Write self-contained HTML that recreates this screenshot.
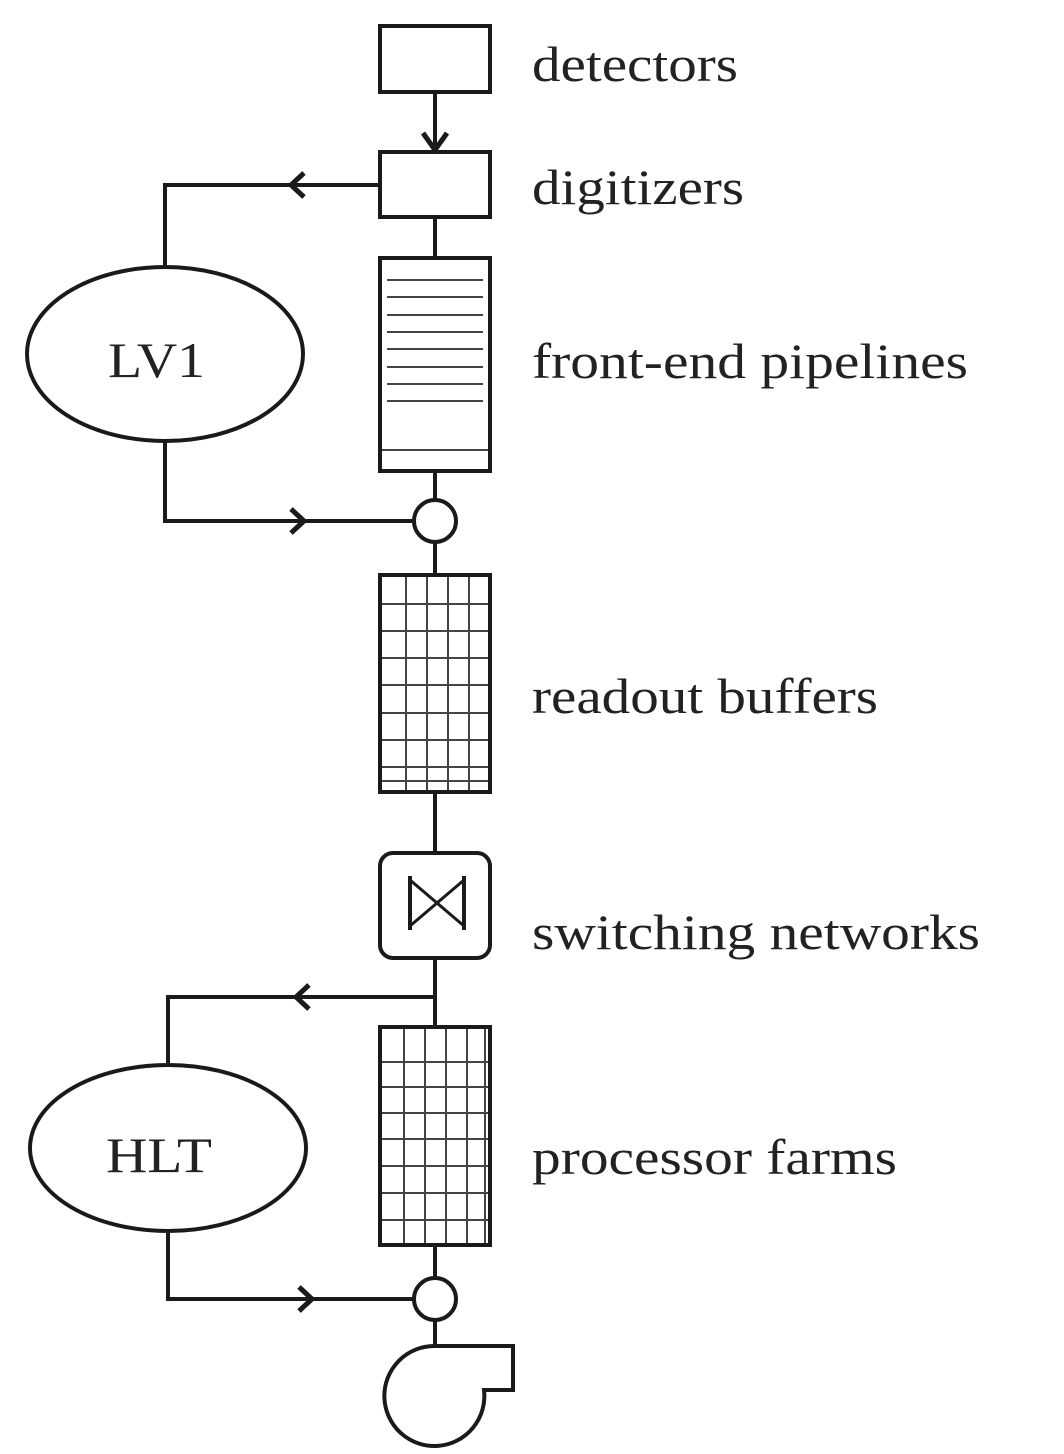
<!DOCTYPE html>
<html><head><meta charset="utf-8"><style>
html,body{margin:0;padding:0;background:#fff}
svg{display:block}
text{font-family:"Liberation Serif",serif;fill:#222}
</style></head><body>
<svg width="1064" height="1454" viewBox="0 0 1064 1454" xmlns="http://www.w3.org/2000/svg">
<g fill="none" stroke="#1a1a1a" stroke-width="4">
<rect x="380" y="26" width="110" height="66"/>
<line x1="435" y1="92" x2="435" y2="150"/>
<polyline points="423,133 435,150 447,133" stroke-width="5"/>
<rect x="380" y="152" width="110" height="65"/>
<line x1="435" y1="217" x2="435" y2="258"/>
<rect x="380" y="258" width="110" height="213"/>
<line x1="435" y1="471" x2="435" y2="500"/>
<circle cx="435" cy="521" r="21"/>
<line x1="435" y1="542" x2="435" y2="575"/>
<rect x="380" y="575" width="110" height="217"/>
<line x1="435" y1="792" x2="435" y2="853"/>
<rect x="380" y="853" width="110" height="105" rx="13"/>
<line x1="435" y1="958" x2="435" y2="1027"/>
<rect x="380" y="1027" width="110" height="218"/>
<line x1="435" y1="1245" x2="435" y2="1278"/>
<circle cx="435" cy="1299" r="21"/>
<line x1="435" y1="1320" x2="435" y2="1346"/>
<path d="M435,1346 L513,1346 L513,1390 L484,1390 A50,50 0 1 1 435,1346"/>
<ellipse cx="165" cy="354" rx="138" ry="87"/>
<polyline points="165,267 165,185 380,185"/>
<polyline points="304,173 291,185 304,197" stroke-width="5"/>
<polyline points="165,441 165,521 414,521"/>
<polyline points="291,509 304,521 291,533" stroke-width="5"/>
<ellipse cx="168" cy="1148" rx="138" ry="83"/>
<polyline points="168,1065 168,997 435,997"/>
<polyline points="309,985 296,997 309,1009" stroke-width="5"/>
<polyline points="168,1231 168,1299 414,1299"/>
<polyline points="299,1287 312,1299 299,1311" stroke-width="5"/>
<line x1="410" y1="876" x2="410" y2="930" stroke-width="4"/>
<line x1="464" y1="876" x2="464" y2="930" stroke-width="4"/>
<polyline points="410,880 464,926" stroke-width="3"/>
<polyline points="464,880 410,926" stroke-width="3"/>
</g>
<g stroke="#444" stroke-width="2" fill="none">
<line x1="387" y1="280" x2="483" y2="280"/>
<line x1="387" y1="297" x2="483" y2="297"/>
<line x1="387" y1="315" x2="483" y2="315"/>
<line x1="387" y1="332" x2="483" y2="332"/>
<line x1="387" y1="349" x2="483" y2="349"/>
<line x1="387" y1="367" x2="483" y2="367"/>
<line x1="387" y1="384" x2="483" y2="384"/>
<line x1="387" y1="401" x2="483" y2="401"/>
<line x1="382" y1="450" x2="488" y2="450"/>
<line x1="406" y1="577" x2="406" y2="790"/>
<line x1="427" y1="577" x2="427" y2="790"/>
<line x1="448" y1="577" x2="448" y2="790"/>
<line x1="469" y1="577" x2="469" y2="790"/>
<line x1="382" y1="604" x2="488" y2="604"/>
<line x1="382" y1="631" x2="488" y2="631"/>
<line x1="382" y1="658" x2="488" y2="658"/>
<line x1="382" y1="685" x2="488" y2="685"/>
<line x1="382" y1="713" x2="488" y2="713"/>
<line x1="382" y1="740" x2="488" y2="740"/>
<line x1="382" y1="767" x2="488" y2="767"/>
<line x1="382" y1="781" x2="488" y2="781"/>
<line x1="404" y1="1029" x2="404" y2="1243"/>
<line x1="425" y1="1029" x2="425" y2="1243"/>
<line x1="446" y1="1029" x2="446" y2="1243"/>
<line x1="467" y1="1029" x2="467" y2="1243"/>
<line x1="485" y1="1029" x2="485" y2="1243"/>
<line x1="382" y1="1062" x2="488" y2="1062"/>
<line x1="382" y1="1087" x2="488" y2="1087"/>
<line x1="382" y1="1113" x2="488" y2="1113"/>
<line x1="382" y1="1139" x2="488" y2="1139"/>
<line x1="382" y1="1166" x2="488" y2="1166"/>
<line x1="382" y1="1193" x2="488" y2="1193"/>
<line x1="382" y1="1220" x2="488" y2="1220"/>
</g>
<g font-size="50">
<text x="532" y="81" textLength="206" lengthAdjust="spacingAndGlyphs">detectors</text>
<text x="532" y="204" textLength="212" lengthAdjust="spacingAndGlyphs">digitizers</text>
<text x="532" y="378" textLength="436" lengthAdjust="spacingAndGlyphs">front-end pipelines</text>
<text x="532" y="713" textLength="346" lengthAdjust="spacingAndGlyphs">readout buffers</text>
<text x="532" y="949" textLength="448" lengthAdjust="spacingAndGlyphs">switching networks</text>
<text x="532" y="1174" textLength="365" lengthAdjust="spacingAndGlyphs">processor farms</text>
<text x="108" y="377" textLength="97" lengthAdjust="spacingAndGlyphs">LV1</text>
<text x="106" y="1172" textLength="106" lengthAdjust="spacingAndGlyphs">HLT</text>
</g>
</svg>
</body></html>
